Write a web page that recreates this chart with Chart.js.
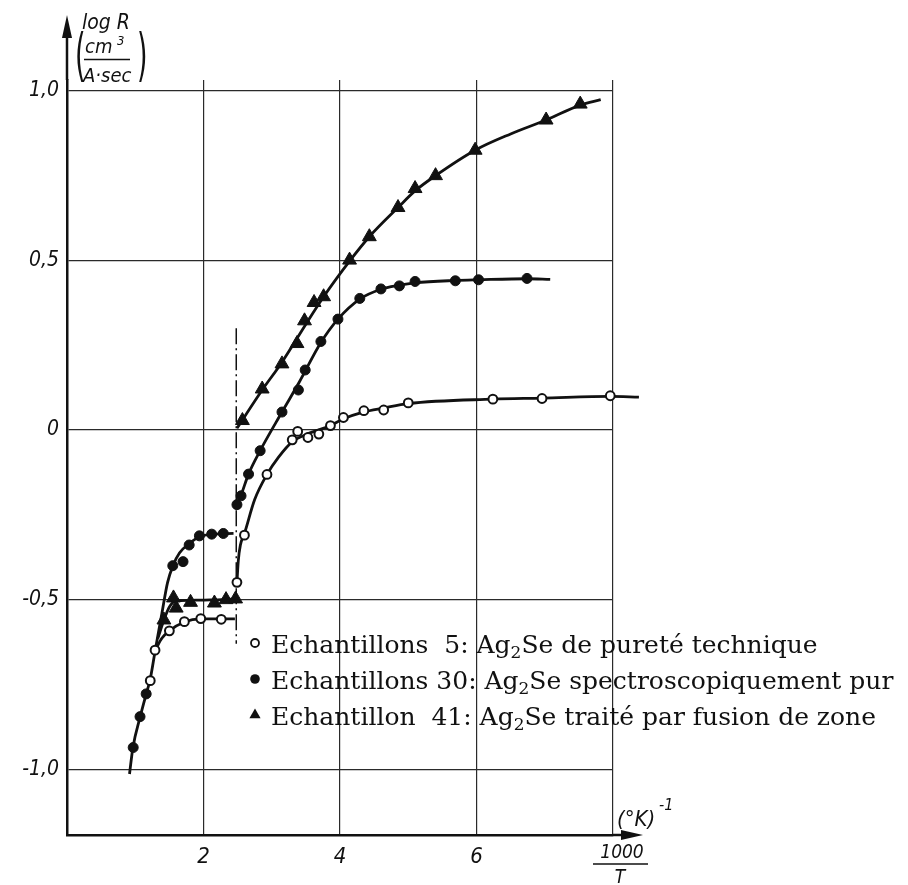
<!DOCTYPE html>
<html lang="fr">
<head>
<meta charset="UTF-8">
<title>log R en fonction de 1000/T – Ag2Se</title>
<style>
  html, body { margin: 0; padding: 0; background: #fff; }
  canvas { display: block; }
</style>
</head>
<body>
<canvas id="chart" width="908" height="885"></canvas>
<script src="https://cdn.jsdelivr.net/npm/chart.js"></script>
<script>
// measured points, [1000/T, log R]
const pts5 = [[1.22,-0.739],[1.29,-0.649],[1.50,-0.592],[1.72,-0.565],[1.96,-0.556],[2.26,-0.558],
  [2.49,-0.449],[2.60,-0.310],[2.93,-0.131],[3.30,-0.029],[3.38,-0.004],[3.53,-0.022],[3.69,-0.012],
  [3.86,0.013],[4.05,0.037],[4.35,0.057],[4.64,0.059],[5.00,0.080],[6.24,0.091],[6.96,0.093],[7.96,0.101]];
const pts30 = [[0.97,-0.936],[1.07,-0.845],[1.16,-0.778],[1.55,-0.400],[1.70,-0.388],[1.79,-0.339],
  [1.94,-0.312],[2.12,-0.307],[2.29,-0.305],[2.49,-0.220],[2.55,-0.194],[2.66,-0.130],[2.83,-0.061],
  [3.15,0.053],[3.39,0.118],[3.49,0.177],[3.72,0.261],[3.97,0.327],[4.29,0.388],[4.60,0.416],
  [4.87,0.425],[5.10,0.438],[5.69,0.440],[6.03,0.443],[6.74,0.447]];
const pts41 = [[1.42,-0.560],[1.56,-0.495],[1.60,-0.525],[1.81,-0.508],[2.16,-0.510],[2.33,-0.500],
  [2.47,-0.498],[2.57,0.028],[2.86,0.121],[3.15,0.195],[3.37,0.255],[3.48,0.322],[3.62,0.376],
  [3.76,0.393],[4.14,0.501],[4.43,0.570],[4.85,0.656],[5.10,0.712],[5.40,0.750],[5.98,0.825],
  [7.02,0.914],[7.52,0.961]];

// hand-drawn fitting curves
const curve30Low = [[0.916,-1.014],[0.966,-0.936],[1.073,-0.845],[1.161,-0.778],[1.219,-0.735],
  [1.293,-0.649],[1.391,-0.540],[1.473,-0.450],[1.552,-0.400],[1.65,-0.362],[1.79,-0.335],
  [1.95,-0.314],[2.15,-0.307],[2.44,-0.305]];
const curve5Low = [[1.293,-0.649],[1.39,-0.614],[1.50,-0.592],[1.72,-0.566],[1.96,-0.557],
  [2.26,-0.557],[2.46,-0.557]];
const curve41Low = [[1.33,-0.615],[1.42,-0.560],[1.50,-0.522],[1.58,-0.505],[1.80,-0.502],
  [2.10,-0.501],[2.47,-0.498]];
const curve5High = [[2.49,-0.449],[2.51,-0.385],[2.54,-0.340],[2.60,-0.305],[2.75,-0.205],
  [2.93,-0.131],[3.10,-0.080],[3.30,-0.035],[3.52,-0.012],[3.86,0.013],[4.05,0.033],[4.34,0.053],
  [4.64,0.065],[5.00,0.078],[6.24,0.091],[6.96,0.094],[7.96,0.099],[8.38,0.097]];
const curve30High = [[2.49,-0.220],[2.55,-0.192],[2.66,-0.130],[2.83,-0.061],[3.15,0.053],
  [3.40,0.140],[3.72,0.258],[3.97,0.327],[4.29,0.386],[4.60,0.415],[4.87,0.427],[5.10,0.434],
  [5.69,0.441],[6.03,0.443],[6.74,0.446],[7.08,0.444]];
const curve41High = [[2.49,0.005],[2.86,0.118],[3.15,0.200],[3.50,0.312],[3.76,0.393],[4.14,0.498],
  [4.43,0.570],[4.85,0.656],[5.10,0.705],[5.40,0.750],[5.98,0.825],[6.50,0.873],[7.02,0.914],
  [7.52,0.958],[7.82,0.974]];
// transition marker (dash-dot)
const transition = [[2.48,0.30],[2.48,-0.63]];

const xTicks = [2, 4, 6, 8];
const yTicks = [-1, -0.5, 0, 0.5, 1];

const legendRows = [
  { marker: 'open',     text: 'Echantillons  5: Ag₂Se de pureté technique' },
  { marker: 'filled',   text: 'Echantillons 30: Ag₂Se spectroscopiquement pur' },
  { marker: 'triangle', text: 'Echantillon  41: Ag₂Se traité par fusion de zone' }
];

const ink = '#111';
const techFont = "'Liberation Sans Narrow', 'DejaVu Sans Condensed', 'Liberation Sans', sans-serif";
const serifFont = "'DejaVu Serif', 'Liberation Serif', serif";

const toXY = arr => arr.map(p => ({ x: p[0], y: p[1] }));

function curve(data) {
  return {
    data: toXY(data), showLine: true, pointRadius: 0, borderColor: ink, borderWidth: 2.8,
    cubicInterpolationMode: 'monotone', clip: false, order: 2
  };
}

function markers(data, style) {
  const base = { data: toXY(data), showLine: false, clip: false, order: 0, borderColor: ink };
  if (style === 'open') return Object.assign(base, { pointStyle: 'circle', pointRadius: 4.4, backgroundColor: '#fff', pointBorderWidth: 2 });
  if (style === 'filled') return Object.assign(base, { pointStyle: 'circle', pointRadius: 5, backgroundColor: ink, pointBorderWidth: 1 });
  return Object.assign(base, { pointStyle: 'triangle', pointRadius: 8, backgroundColor: ink, pointBorderWidth: 1 });
}

function drawMarker(ctx, kind, x, y) {
  ctx.beginPath();
  if (kind === 'triangle') {
    ctx.moveTo(x, y - 6.5); ctx.lineTo(x + 5.6, y + 3.2); ctx.lineTo(x - 5.6, y + 3.2); ctx.closePath(); ctx.fill();
  } else if (kind === 'filled') {
    ctx.arc(x, y, 4.8, 0, Math.PI * 2); ctx.fill();
  } else {
    ctx.lineWidth = 1.8; ctx.arc(x, y, 4, 0, Math.PI * 2); ctx.stroke();
  }
}

// text with a lowered small "2" for Ag₂Se
function drawFormulaText(ctx, text, x, y) {
  const parts = text.split('₂');
  ctx.font = `25px ${serifFont}`;
  ctx.fillText(parts[0], x, y);
  x += ctx.measureText(parts[0]).width;
  ctx.font = `17px ${serifFont}`;
  ctx.fillText('2', x, y + 5);
  x += ctx.measureText('2').width;
  ctx.font = `25px ${serifFont}`;
  ctx.fillText(parts[1], x, y);
}

const decorations = {
  id: 'decorations',
  afterDraw(chart) {
    const ctx = chart.ctx;
    const xs = chart.scales.x, ys = chart.scales.y;
    const x0 = xs.getPixelForValue(0), xEnd = xs.getPixelForValue(8);
    const yBot = ys.getPixelForValue(ys.min), yTop = chart.chartArea.top;
    ctx.save();
    ctx.strokeStyle = ink; ctx.fillStyle = ink;

    // axis arrows
    ctx.lineWidth = 2.5;
    ctx.beginPath(); ctx.moveTo(x0, yTop); ctx.lineTo(x0, 36); ctx.stroke();
    ctx.beginPath(); ctx.moveTo(x0, 15); ctx.lineTo(x0 - 5, 38); ctx.lineTo(x0 + 5, 38); ctx.closePath(); ctx.fill();
    ctx.beginPath(); ctx.moveTo(xEnd, yBot); ctx.lineTo(624, yBot); ctx.stroke();
    ctx.beginPath(); ctx.moveTo(643, yBot); ctx.lineTo(621, yBot - 5); ctx.lineTo(621, yBot + 5); ctx.closePath(); ctx.fill();

    // y title: log R (cm³ / A·sec)
    ctx.textBaseline = 'alphabetic';
    ctx.textAlign = 'left';
    ctx.font = `italic 21px ${techFont}`;
    ctx.fillText('log R', 82, 29);
    ctx.font = `italic 20px ${techFont}`;
    ctx.fillText('cm', 85, 53);
    ctx.font = `italic 13px ${techFont}`;
    ctx.fillText('3', 117, 45);
    ctx.font = `italic 20px ${techFont}`;
    ctx.fillText('A·sec', 83, 82);
    ctx.lineWidth = 1.5;
    ctx.beginPath(); ctx.moveTo(84, 59.5); ctx.lineTo(130, 59.5); ctx.stroke();
    ctx.font = `30px ${techFont}`;
    [['(', 75], [')', 137]].forEach(([ch, px]) => {
      ctx.save(); ctx.translate(px, 74); ctx.scale(1, 1.9); ctx.fillText(ch, 0, 0); ctx.restore();
    });

    // x title: (°K)⁻¹ and 1000/T
    ctx.font = `italic 22px ${techFont}`;
    ctx.fillText('(°K)', 617, 826);
    ctx.font = `italic 16px ${techFont}`;
    ctx.fillText('-1', 659, 810);
    ctx.textAlign = 'center';
    ctx.font = `italic 19px ${techFont}`;
    ctx.fillText('1000', 622, 858);
    ctx.fillText('T', 620, 883);
    ctx.beginPath(); ctx.moveTo(593, 864); ctx.lineTo(648, 864); ctx.stroke();

    // legend
    ctx.textAlign = 'left';
    legendRows.forEach((row, i) => {
      const base = 653 + i * 36;
      drawMarker(ctx, row.marker, 255, base - 10);
      drawFormulaText(ctx, row.text, 271, base);
    });
    ctx.restore();
  }
};

const tickFont = { family: techFont, size: 21, style: 'italic' };

new Chart(document.getElementById('chart'), {
  type: 'line',
  data: {
    datasets: [
      markers(pts5, 'open'),
      markers(pts30, 'filled'),
      markers(pts41, 'triangle'),
      curve(curve30Low), curve(curve5Low), curve(curve41Low),
      curve(curve5High), curve(curve30High), curve(curve41High),
      { data: toXY(transition), showLine: true, pointRadius: 0, borderColor: ink, borderWidth: 1.5,
        borderDash: [16, 4, 2, 4], clip: false, order: 3 }
    ]
  },
  options: {
    responsive: false,
    animation: false,
    events: [],
    layout: { padding: { top: 80, right: 295, bottom: 0, left: 0 } },
    plugins: { legend: { display: false }, tooltip: { enabled: false } },
    scales: {
      x: {
        type: 'linear', min: 0, max: 8,
        afterBuildTicks: s => { s.ticks = xTicks.map(v => ({ value: v })); },
        afterFit: s => { s.height = 50; },
        grid: { color: '#2a2a2a', lineWidth: 1.2, drawTicks: false },
        border: { color: ink, width: 2.5 },
        ticks: { color: ink, font: { family: techFont, size: 22, style: 'italic' }, padding: 9, maxRotation: 0,
          callback: v => (v === 8 ? '' : String(v)) }
      },
      y: {
        type: 'linear', min: -1.194, max: 1.032,
        afterBuildTicks: s => { s.ticks = yTicks.map(v => ({ value: v })); },
        afterFit: s => { s.width = 67; },
        grid: { color: '#2a2a2a', lineWidth: 1.2, drawTicks: false },
        border: { color: ink, width: 2.5 },
        ticks: { color: ink, font: tickFont, padding: 8,
          callback: v => (v === 0 ? '0' : v.toFixed(1).replace('.', ',')) }
      }
    }
  },
  plugins: [decorations]
});
</script>
</body>
</html>
